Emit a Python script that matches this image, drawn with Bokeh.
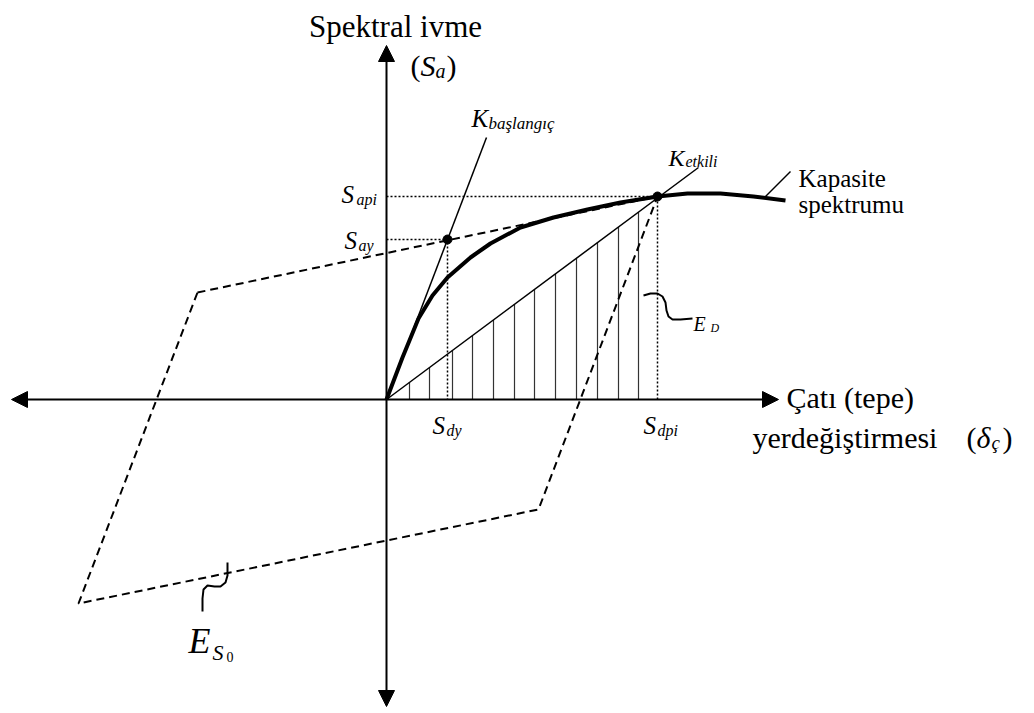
from bokeh.plotting import figure
from bokeh.models import Range1d, Arrow, NormalHead
from bokeh.embed import file_html
from bokeh.resources import INLINE
from bokeh.core.properties import value

FONT_NAME = "Liberation Serif"

# Capacity spectrum: spectral displacement (d) vs spectral acceleration (a), drawing units
cap_d = [0, 16, 32, 46, 61, 84, 104, 134, 167, 201, 234, 271, 301, 334, 367, 399]
cap_a = [0, 42, 81, 104, 122, 142, 156, 172, 182, 190, 197, 203, 206, 206, 203, 199]

# Yield point (S_dy, S_ay) and performance point (S_dpi, S_api)
say_point = (61, 160)
dpi_point = (271, 203)

# Initial and effective stiffness lines
k_init_d = [0, 100]
k_init_a = [0, 262]
k_eff_d = [0, 312]
k_eff_a = [0, 232]

# Bilinear hysteresis loop (E_S0)
loop_d = [-189, 271, 152, -308, -189]
loop_a = [107, 203, -110, -204, 107]

# Vertical hatch under the effective stiffness line (E_D)
hatch_d = [23, 43, 66, 86, 107, 128, 148, 169, 190, 211, 232, 252]

# Axis extents
x_axis = (-375, 392)
y_axis = (-307, 354)

# Leader squiggles
ed_lead_d = [257, 264, 271, 276, 279, 280, 282, 286, 294, 306]
ed_lead_a = [104, 106, 106, 103, 97, 89, 83, 80, 80, 81]
es_lead_d = [-184, -184, -183, -179, -172, -166, -161, -159, -159]
es_lead_a = [-212, -199, -190, -186, -187, -187, -183, -176, -163]
cap_lead_d = [379, 404]
cap_lead_a = [203, 228]

p = figure(width=1034, height=713, x_range=Range1d(-386, 648), y_range=Range1d(-314, 399),
           output_backend="svg", toolbar_location=None, min_border=0,
           min_border_left=0, min_border_right=0, min_border_top=0, min_border_bottom=0)
p.axis.visible = False
p.grid.visible = False
p.outline_line_color = None
p.background_fill_color = "white"
p.border_fill_color = "white"

# axes with arrow heads at both ends
for xs, ys, xe, ye in [(x_axis[0], 0, x_axis[1], 0), (0, y_axis[0], 0, y_axis[1])]:
    p.add_layout(Arrow(start=NormalHead(size=16, fill_color="black", line_color="black", line_width=1),
                       end=NormalHead(size=16, fill_color="black", line_color="black", line_width=1),
                       x_start=xs, y_start=ys, x_end=xe, y_end=ye,
                       line_color="black", line_width=2))

# hatch lines
slope = k_eff_a[1] / k_eff_d[1]
p.segment(x0=hatch_d, y0=[0] * len(hatch_d), x1=hatch_d, y1=[d * slope for d in hatch_d],
          line_color="#333333", line_width=1.2)

# hysteresis loop
p.line(loop_d, loop_a, line_color="black", line_width=2, line_dash="8 5")

# stiffness lines
p.line(k_init_d, k_init_a, line_color="black", line_width=1.5)
p.line(k_eff_d, k_eff_a, line_color="black", line_width=1.5)

# dotted guides
p.line([0, say_point[0], say_point[0]], [say_point[1], say_point[1], 0],
       line_color="black", line_width=1.5, line_dash="2 2")
p.line([0, dpi_point[0], dpi_point[0]], [dpi_point[1], dpi_point[1], 0],
       line_color="black", line_width=1.5, line_dash="2 2")

# capacity spectrum
p.line(cap_d, cap_a, line_color="black", line_width=4, line_join="round")

# marked points
p.scatter([say_point[0], dpi_point[0]], [say_point[1], dpi_point[1]], size=9,
          fill_color="black", line_color="black")

# leaders
p.line(ed_lead_d, ed_lead_a, line_color="black", line_width=2)
p.line(es_lead_d, es_lead_a, line_color="black", line_width=2)
p.line(cap_lead_d, cap_lead_a, line_color="black", line_width=1.5)


def txt(x, y, s, size, italic=False, align="left"):
    p.text(x=[x], y=[y], text=[s], text_font=value(FONT_NAME), text_font_size=f"{size}px",
           text_font_style="italic" if italic else "normal", text_align=align,
           text_baseline="alphabetic", text_color="black")


# y-axis title
txt(9, 373, "Spektral ivme", 31, align="center")
txt(24, 334, "(", 30)
txt(34, 334, "S", 30, italic=True)
txt(49, 329, "a", 20, italic=True)
txt(60, 334, ")", 30)

# x-axis title
txt(400, 2, "Çatı (tepe)", 30)
txt(366, -38, "yerdeğiştirmesi", 30)
txt(580, -38, "(", 30)
txt(590, -38, "δ", 30, italic=True)
txt(605, -43, "ç", 19, italic=True)
txt(616, -38, ")", 30)

# stiffness labels
txt(85, 281, "K", 25, italic=True)
txt(102, 276, "başlangıç", 17, italic=True)
txt(282, 242, "K", 24, italic=True)
txt(299, 238, "etkili", 16, italic=True)

# point labels
txt(-45, 205, "S", 25, italic=True)
txt(-30, 200, "api", 16, italic=True)
txt(-42, 159, "S", 25, italic=True)
txt(-28, 154, "ay", 16, italic=True)
txt(46, -26, "S", 25, italic=True)
txt(60, -31, "dy", 16, italic=True)
txt(257, -26, "S", 25, italic=True)
txt(271, -31, "dpi", 16, italic=True)

# capacity curve label
txt(412, 221, "Kapasite", 25)
txt(412, 195, "spektrumu", 25)

# energy labels
txt(307, 76, "E", 20, italic=True)
txt(324, 72, "D", 12, italic=True)
txt(-198, -241, "E", 36, italic=True)
txt(-174, -253, "S", 22, italic=True)
txt(-160, -257, "0", 14)

open("out.html", "w").write(file_html(p, INLINE))
